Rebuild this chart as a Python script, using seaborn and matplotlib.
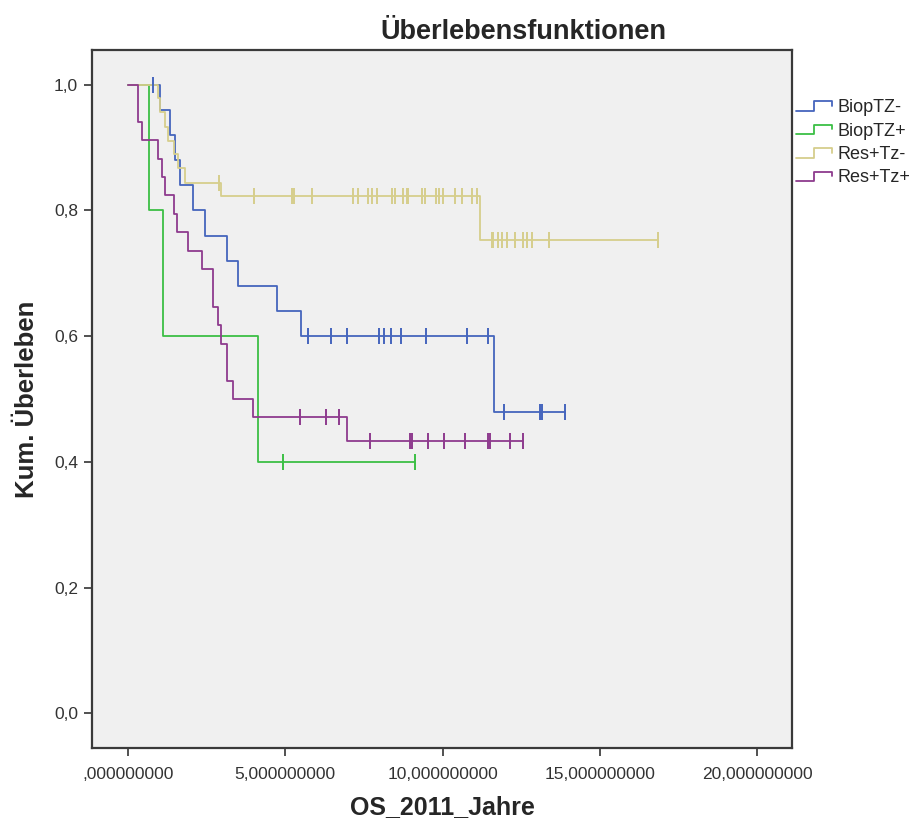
import numpy as np
import pandas as pd
import matplotlib
matplotlib.use("Agg")
import matplotlib.pyplot as plt
import seaborn as sns
from matplotlib.lines import Line2D
from matplotlib.legend_handler import HandlerBase
from matplotlib.ticker import FixedLocator, FixedFormatter

# ---------------- data ----------------
groups = ["BiopTZ-", "BiopTZ+", "Res+Tz-", "Res+Tz+"]
colors = ["#4565bd", "#3cbf45", "#d6ce8c", "#8e3b8e"]

biop_neg_t = [0, 1.02, 1.34, 1.49, 1.65, 2.08, 2.45, 3.14, 3.51, 4.73, 5.49, 11.62, 13.90]
biop_neg_s = [1.0, 0.96, 0.92, 0.88, 0.84, 0.80, 0.76, 0.72, 0.68, 0.64, 0.60, 0.48, 0.48]
biop_neg_c = [0.80, 5.73, 6.45, 6.97, 7.98, 8.14, 8.36, 8.67, 9.47, 10.79, 11.46,
              11.96, 13.10, 13.15, 13.90]

biop_pos_t = [0, 0.68, 1.10, 4.14, 9.13]
biop_pos_s = [1.0, 0.80, 0.60, 0.40, 0.40]
biop_pos_c = [4.94, 9.13]

res_neg_t = [0, 0.96, 1.02, 1.18, 1.28, 1.45, 1.60, 1.81, 2.96, 11.19, 16.84]
res_neg_s = [1.0, 0.978, 0.956, 0.933, 0.911, 0.889, 0.867, 0.844, 0.823, 0.753, 0.753]
res_neg_c = [2.89, 4.02, 5.22, 5.29, 5.86, 7.16, 7.32, 7.64, 7.75, 7.91, 8.38, 8.49,
             8.75, 8.86, 8.91, 9.34, 9.44, 9.79, 9.90, 10.01, 10.40, 10.61, 10.93,
             11.09, 11.56, 11.61, 11.77, 11.88, 12.04, 12.31, 12.57, 12.68, 12.84,
             13.40, 16.84]

res_pos_t = [0, 0.33, 0.45, 0.96, 1.08, 1.18, 1.46, 1.55, 1.90, 2.34, 2.71, 2.87,
             2.96, 3.14, 3.35, 3.96, 6.95, 12.55]
res_pos_s = [1.0, 0.941, 0.912, 0.882, 0.853, 0.824, 0.794, 0.765, 0.735, 0.706,
             0.647, 0.618, 0.588, 0.529, 0.500, 0.471, 0.434, 0.434]
res_pos_c = [5.47, 6.29, 6.71, 7.69, 8.97, 9.02, 9.55, 10.06, 10.72, 11.46, 11.51,
             12.15, 12.55]

x_ticks = [0, 5, 10, 15, 20]
x_tick_labels = [",000000000", "5,000000000", "10,000000000", "15,000000000", "20,000000000"]
y_ticks = [0.0, 0.2, 0.4, 0.6, 0.8, 1.0]
y_tick_labels = ["0,0", "0,2", "0,4", "0,6", "0,8", "1,0"]

title = "Überlebensfunktionen"
x_label = "OS_2011_Jahre"
y_label = "Kum. Überleben"

# ---------------- build tables ----------------
steps = [(biop_neg_t, biop_neg_s, biop_neg_c), (biop_pos_t, biop_pos_s, biop_pos_c),
         (res_neg_t, res_neg_s, res_neg_c), (res_pos_t, res_pos_s, res_pos_c)]
step_rows, cens_rows = [], []
for g, (t, s, c) in zip(groups, steps):
    for ti, si in zip(t, s):
        step_rows.append((g, ti, si))
    t_arr = np.asarray(t)
    for ci in c:
        idx = np.searchsorted(t_arr, ci, side="right") - 1
        cens_rows.append((g, ci, s[idx]))
step_df = pd.DataFrame(step_rows, columns=["group", "time", "surv"])
cens_df = pd.DataFrame(cens_rows, columns=["group", "time", "surv"])

# ---------------- plot ----------------
sns.set_style("white")
plt.rcParams["font.family"] = ["Liberation Sans", "DejaVu Sans"]

W, H = 911, 825
fig = plt.figure(figsize=(W / 100, H / 100), dpi=100)
ax = fig.add_axes([92 / W, 1 - 748 / H, 700 / W, 698 / H])
ax.set_facecolor("#f0f0f0")

palette = dict(zip(groups, colors))
sns.lineplot(data=step_df, x="time", y="surv", hue="group", hue_order=groups,
             palette=palette, drawstyle="steps-post", estimator=None, sort=False,
             linewidth=1.3, ax=ax, legend=True)
for g in groups:
    sub = cens_df[cens_df["group"] == g]
    ax.plot(sub["time"], sub["surv"], linestyle="none", marker="|",
            markersize=11, markeredgewidth=1.4, color=palette[g])

ax.set_xlim(-1.145, 21.11)
ax.set_ylim(-0.055, 1.055)
ax.xaxis.set_major_locator(FixedLocator(x_ticks))
ax.xaxis.set_major_formatter(FixedFormatter(x_tick_labels))
ax.yaxis.set_major_locator(FixedLocator(y_ticks))
ax.yaxis.set_major_formatter(FixedFormatter(y_tick_labels))
ax.tick_params(axis="both", direction="out", length=6, width=1.2, color="#333333",
               labelsize=12.5, labelcolor="#333333", bottom=True, left=True, pad=4)
ax.tick_params(axis="x", pad=8)
for sp in ax.spines.values():
    sp.set_color("#3a3a3a")
    sp.set_linewidth(1.6)

ax.set_xlabel(x_label, fontsize=18, fontweight="bold", labelpad=9)
ax.set_ylabel(y_label, fontsize=18.5, fontweight="bold", labelpad=11)
fig.text(523 / W, 1 - 32 / H, title, fontsize=19.5, fontweight="bold",
         ha="center", va="center")


class StepHandler(HandlerBase):
    def create_artists(self, legend, orig_handle, xdescent, ydescent, width,
                       height, fontsize, trans):
        x0 = -xdescent
        lo = -ydescent + height * 0.1
        hi = -ydescent + height * 0.85
        xs = [x0, x0 + width * 0.5, x0 + width * 0.5, x0 + width, x0 + width]
        ys = [lo, lo, hi, hi, hi - height * 0.35]
        ln = Line2D(xs, ys, color=orig_handle.get_color(), lw=1.3, transform=trans)
        return [ln]


handles, labels = ax.get_legend_handles_labels()
ax.get_legend().remove()
fig.legend(handles, labels, loc="upper left", bbox_to_anchor=(796 / W, 1 - 99 / H),
           frameon=False, fontsize=13, handlelength=2.0, handletextpad=0.3,
           labelspacing=0.36, borderaxespad=0, borderpad=0,
           handler_map={Line2D: StepHandler()})

fig.savefig("out.png", dpi=100, facecolor="white")
